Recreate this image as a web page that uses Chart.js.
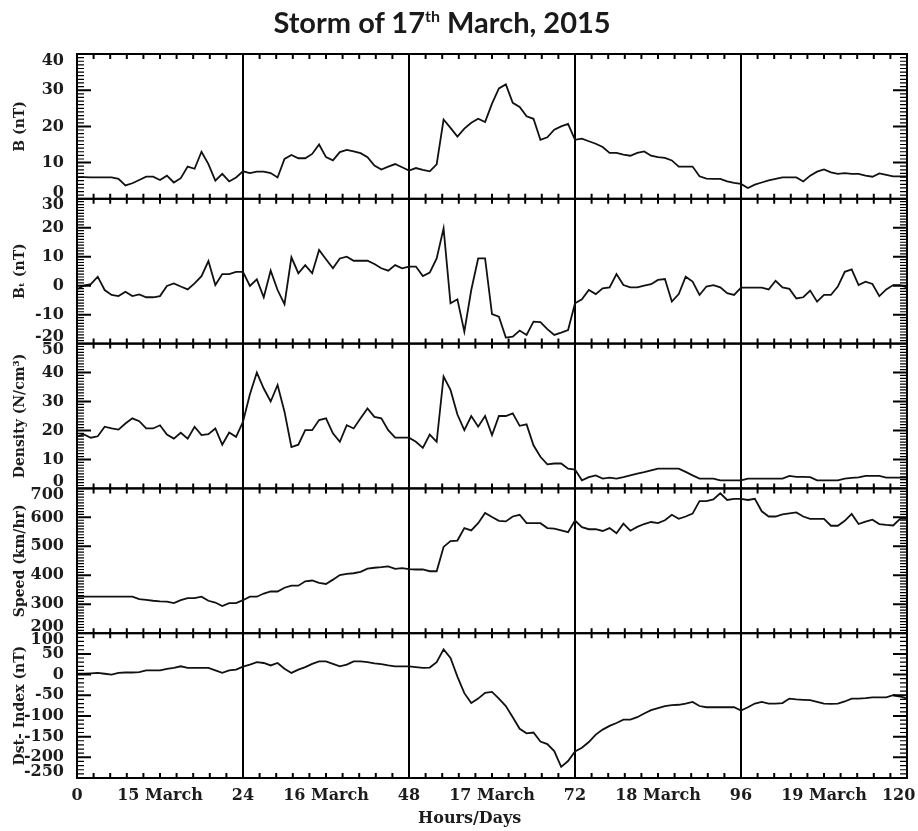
<!DOCTYPE html>
<html>
<head>
<meta charset="utf-8">
<title>Storm of 17th March, 2015</title>
<script src="https://cdn.jsdelivr.net/npm/chart.js@4.4.0/dist/chart.umd.min.js"></script>
<style>
  html, body { margin: 0; padding: 0; background: #fff; }
  #wrap { position: relative; width: 918px; height: 831px; }
  #title {
    position: absolute; left: 0; top: 4px; width: 884px;
    text-align: center; font: 700 29px Lato, sans-serif; color: #1a1a1a;
  }
  #title sup { font-size: 16px; vertical-align: 11px; line-height: 0; }
</style>
</head>
<body>
<div id="wrap">
  <canvas id="storm"></canvas>
  <div id="title">Storm of 17<sup>th</sup> March, 2015</div>
</div>
<script>
// hours since 00 UT on 14 March 2015
const hours = Array.from({ length: 121 }, (_, i) => i);

// x axis labels (every 12 h)
const xTickHours  = [0, 12, 24, 36, 48, 60, 72, 84, 96, 108, 120];
const xTickLabels = ['0', '15 March', '24', '16 March', '48', '17 March', '72', '18 March', '96', '19 March', '120\u00a0\u00a0\u00a0'];

// |B| (nT)
const bValues = [
  6.0, 6.0, 5.9, 5.9, 5.9, 5.9, 5.5, 3.7, 4.3, 5.2,
  6.1, 6.1, 5.2, 6.4, 4.5, 5.7, 8.9, 8.3, 13.0, 9.6,
  5.0, 6.9, 4.8, 5.9, 7.6, 7.1, 7.5, 7.5, 7.1, 5.9,
  11.0, 12.1, 11.2, 11.2, 12.4, 15.0, 11.5, 10.6, 12.9, 13.5,
  13.1, 12.6, 11.5, 9.2, 8.1, 8.9, 9.6, 8.7, 7.8, 8.5,
  8.0, 7.6, 9.5, 21.9, 19.6, 17.2, 19.4, 21.0, 22.1, 21.2,
  26.3, 30.5, 31.6, 26.5, 25.4, 22.8, 22.1, 16.3, 17.0, 19.1,
  20.0, 20.7, 16.3, 16.6, 15.9, 15.2, 14.3, 12.7, 12.7, 12.2,
  11.9, 12.7, 13.1, 11.9, 11.5, 11.3, 10.6, 8.9, 8.9, 8.9,
  6.2, 5.6, 5.5, 5.5, 4.8, 4.4, 4.1, 3.0, 3.9, 4.5,
  5.1, 5.5, 5.9, 5.9, 5.9, 4.8, 6.4, 7.5, 8.1, 7.3,
  6.9, 7.1, 6.9, 6.9, 6.4, 6.1, 7.0, 6.6, 6.2, 6.2, 6.2
];

// Bt (nT)
const btValues = [
  -1.2, 0.0, 0.5, 3.1, -1.5, -3.2, -3.6, -2.1, -3.6, -3.0,
  -4.0, -4.0, -3.6, -0.1, 0.8, -0.3, -1.3, 0.8, 3.3, 8.5,
  0.2, 4.0, 4.0, 4.8, 4.8, -0.1, 2.2, -4.0, 5.2, -1.5,
  -6.4, 9.8, 4.3, 7.1, 4.3, 12.3, 9.1, 6.0, 9.4, 10.0,
  8.6, 8.6, 8.6, 7.5, 6.0, 5.2, 7.1, 6.0, 6.6, 6.6,
  3.3, 4.5, 9.4, 19.8, -6.1, -4.7, -15.9, -1.5, 9.4, 9.4,
  -9.8, -10.7, -17.9, -17.6, -15.5, -17.0, -12.4, -12.6, -15.0, -17.0,
  -16.2, -15.3, -6.1, -4.7, -1.5, -2.9, -0.9, -0.6, 4.0, 0.2,
  -0.6, -0.6, 0.0, 0.5, 2.0, 2.3, -5.5, -2.9, 3.1, 1.4,
  -3.2, -0.3, 0.2, -0.6, -2.6, -3.2, -0.7, -0.7, -0.7, -0.7,
  -1.3, 1.7, -0.6, -1.1, -4.4, -4.0, -1.7, -5.5, -3.2, -3.2,
  -0.3, 4.8, 5.6, 0.2, 1.4, 0.6, -3.6, -1.3, 0.2, 0.2, -0.6
];

// proton density (N/cm3)
const densityValues = [
  18.0, 18.6, 17.5, 18.0, 21.3, 20.7, 20.3, 22.4, 24.2, 23.2,
  20.7, 20.7, 21.8, 18.6, 17.2, 19.2, 17.2, 21.3, 18.4, 18.7,
  20.7, 15.1, 19.3, 17.8, 23.0, 32.5, 40.0, 34.5, 30.0, 35.7,
  26.5, 14.3, 15.1, 20.1, 20.1, 23.6, 24.2, 19.0, 16.1, 21.8,
  20.7, 24.2, 27.6, 24.7, 24.2, 20.1, 17.5, 17.5, 17.5, 16.1,
  14.0, 18.6, 16.1, 38.6, 34.0, 25.5, 20.1, 25.0, 21.3, 25.0,
  18.4, 25.0, 25.0, 25.9, 21.6, 22.1, 14.9, 10.9, 8.3, 8.6,
  8.6, 6.8, 6.5, 2.8, 3.9, 4.5, 3.4, 3.7, 3.4, 3.9,
  4.5, 5.1, 5.6, 6.2, 6.8, 6.8, 6.8, 6.8, 5.7, 4.5,
  3.4, 3.4, 3.4, 2.8, 2.8, 2.8, 2.8, 3.4, 3.4, 3.4,
  3.4, 3.4, 3.4, 4.3, 4.0, 4.0, 3.9, 2.8, 2.8, 2.8,
  2.8, 3.4, 3.6, 3.8, 4.3, 4.3, 4.3, 3.7, 3.7, 3.7, 3.7
];

// solar wind speed (km/hr as labelled)
const speedValues = [
  326, 326, 326, 326, 326, 326, 326, 326, 326, 318,
  315, 312, 310, 309, 304, 314, 321, 321, 326, 312,
  306, 294, 304, 304, 314, 326, 326, 337, 344, 344,
  357, 364, 364, 379, 382, 374, 370, 385, 401, 405,
  407, 412, 423, 426, 428, 431, 422, 425, 421, 420,
  420, 414, 414, 498, 518, 520, 563, 555, 580, 615,
  601, 588, 586, 603, 609, 580, 580, 580, 563, 561,
  555, 549, 589, 566, 559, 559, 553, 563, 545, 578,
  554, 567, 577, 584, 580, 590, 609, 595, 603, 613,
  656, 656, 662, 683, 660, 664, 664, 660, 664, 621,
  603, 603, 610, 614, 617, 603, 595, 595, 595, 571,
  571, 588, 612, 577, 585, 592, 577, 574, 572, 595, 595
];

// Dst index (nT)
const dstValues = [
  2, 2, 3, 4, 2, 0, 4, 5, 5, 6,
  10, 10, 10, 14, 16, 20, 16, 16, 16, 16,
  10, 4, 10, 12, 19, 24, 30, 28, 22, 28,
  14, 4, 12, 18, 26, 32, 32, 26, 20, 24,
  32, 32, 30, 27, 25, 22, 20, 20, 20, 18,
  16, 17, 30, 61, 40, -5, -45, -69, -58, -44,
  -42, -58, -76, -103, -131, -142, -140, -162, -168, -185,
  -223, -209, -186, -177, -163, -145, -133, -124, -117, -109,
  -109, -103, -94, -86, -81, -76, -74, -73, -70, -66,
  -76, -79, -79, -79, -79, -79, -87, -79, -70, -66,
  -70, -70, -69, -58, -60, -61, -62, -66, -70, -71,
  -70, -65, -58, -58, -57, -55, -55, -55, -50, -53, -58
];

const serif = "'DejaVu Serif', 'Liberation Serif', serif";
const ink = '#1c1c1c';

// minor / major tick steps used by the frame plugin
const tickSteps = {
  yB:     { minor: 1,  major: 10 },
  yBt:    { minor: 1,  major: 10 },
  yDens:  { minor: 1,  major: 10 },
  ySpeed: { minor: 10, major: 100 },
  yDst:   { minor: 10, major: 50 }
};

function panelAxis(title, min, max, step) {
  return {
    type: 'linear',
    position: 'left',
    stack: 'panels',
    stackWeight: 1,
    min: min,
    max: max,
    grid: { display: false },
    border: { display: false },
    ticks: {
      stepSize: step,
      autoSkip: false,
      color: ink,
      padding: 5,
      font: { family: serif, size: 16, weight: 'bold', lineHeight: 0.8 },
      // push the end labels inward like the original plot
      callback: (v) => v === max ? ['', String(v)] : v === min ? [String(v), ''] : String(v)
    },
    title: {
      display: true,
      text: title,
      color: ink,
      font: { family: serif, size: 14, weight: 'bold' },
      padding: { top: 12, bottom: 0 }
    },
    afterFit: (s) => { s.width = 77; s.paddingTop = 0; s.paddingBottom = 0; }
  };
}

function series(values, axisId) {
  return {
    data: values.map((v, i) => ({ x: hours[i], y: v })),
    yAxisID: axisId,
    borderColor: '#111',
    borderWidth: 1.8,
    pointRadius: 0,
    tension: 0,
    fill: false
  };
}

// panel frames, inward ticks on all sides
const panelFrame = {
  id: 'panelFrame',
  afterDatasetsDraw(chart) {
    const { ctx, chartArea: a, scales } = chart;
    const xs = scales.x;
    ctx.save();
    ctx.strokeStyle = '#000';
    Object.keys(tickSteps).forEach((id) => {
      const s = scales[id];
      const st = tickSteps[id];
      ctx.lineWidth = 2;
      ctx.strokeRect(a.left, s.top, a.right - a.left, s.bottom - s.top);

      // x ticks every 2.4 h on top and bottom of each panel
      ctx.beginPath();
      for (let i = 1; i < 50; i++) {
        const px = xs.getPixelForValue(i * 2.4);
        ctx.moveTo(px, s.top);
        ctx.lineTo(px, s.top + 5);
        ctx.moveTo(px, s.bottom);
        ctx.lineTo(px, s.bottom - 5);
      }
      ctx.stroke();

      // y ticks, left and right
      const n = Math.round((s.max - s.min) / st.minor);
      for (let k = 1; k < n; k++) {
        const v = s.min + k * st.minor;
        const py = s.getPixelForValue(v);
        const major = Math.abs(v / st.major - Math.round(v / st.major)) < 1e-6;
        const len = major ? 14 : 7;
        ctx.lineWidth = major ? 2 : 1.2;
        ctx.beginPath();
        ctx.moveTo(a.left, py);
        ctx.lineTo(a.left + len, py);
        ctx.moveTo(a.right, py);
        ctx.lineTo(a.right - len, py);
        ctx.stroke();
      }
    });
    ctx.restore();
  }
};

const chart = new Chart(document.getElementById('storm'), {
  type: 'line',
  data: {
    datasets: [
      series(dstValues, 'yDst'),
      series(speedValues, 'ySpeed'),
      series(densityValues, 'yDens'),
      series(btValues, 'yBt'),
      series(bValues, 'yB')
    ]
  },
  options: {
    responsive: true,
    maintainAspectRatio: false,
    animation: false,
    layout: { padding: { top: 54, right: 11, bottom: 0, left: 0 } },
    plugins: {
      legend: { display: false },
      tooltip: { enabled: false }
    },
    scales: {
      x: {
        type: 'linear',
        min: 0,
        max: 120,
        afterBuildTicks: (s) => { s.ticks = xTickHours.map((h) => ({ value: h })); },
        ticks: {
          autoSkip: false,
          maxRotation: 0,
          color: ink,
          padding: 8,
          font: { family: serif, size: 16, weight: 'bold' },
          callback: (v) => {
            const i = xTickHours.indexOf(v);
            return i >= 0 ? xTickLabels[i] : '';
          }
        },
        grid: {
          drawTicks: false,
          lineWidth: 2,
          color: (c) => (c.tick && c.tick.value % 24 === 0 && c.tick.value > 0 && c.tick.value < 120) ? '#000' : 'rgba(0,0,0,0)'
        },
        border: { display: false },
        title: {
          display: true,
          text: 'Hours/Days\u00a0\u00a0\u00a0\u00a0\u00a0\u00a0\u00a0\u00a0',
          color: ink,
          font: { family: serif, size: 16, weight: 'bold' },
          padding: { top: 0, bottom: 3 }
        },
        afterFit: (s) => { s.height = 53; s.paddingLeft = 0; s.paddingRight = 0; }
      },
      yDst:   panelAxis('Dst- Index (nT)', -250, 100, 50),
      ySpeed: panelAxis('Speed (km/hr)', 200, 700, 100),
      yDens:  panelAxis('Density (N/cm³)', 0, 50, 10),
      yBt:    panelAxis('Bₜ (nT)', -20, 30, 10),
      yB:     panelAxis('B (nT)', 0, 40, 10)
    }
  },
  plugins: [panelFrame]
});
</script>
</body>
</html>
